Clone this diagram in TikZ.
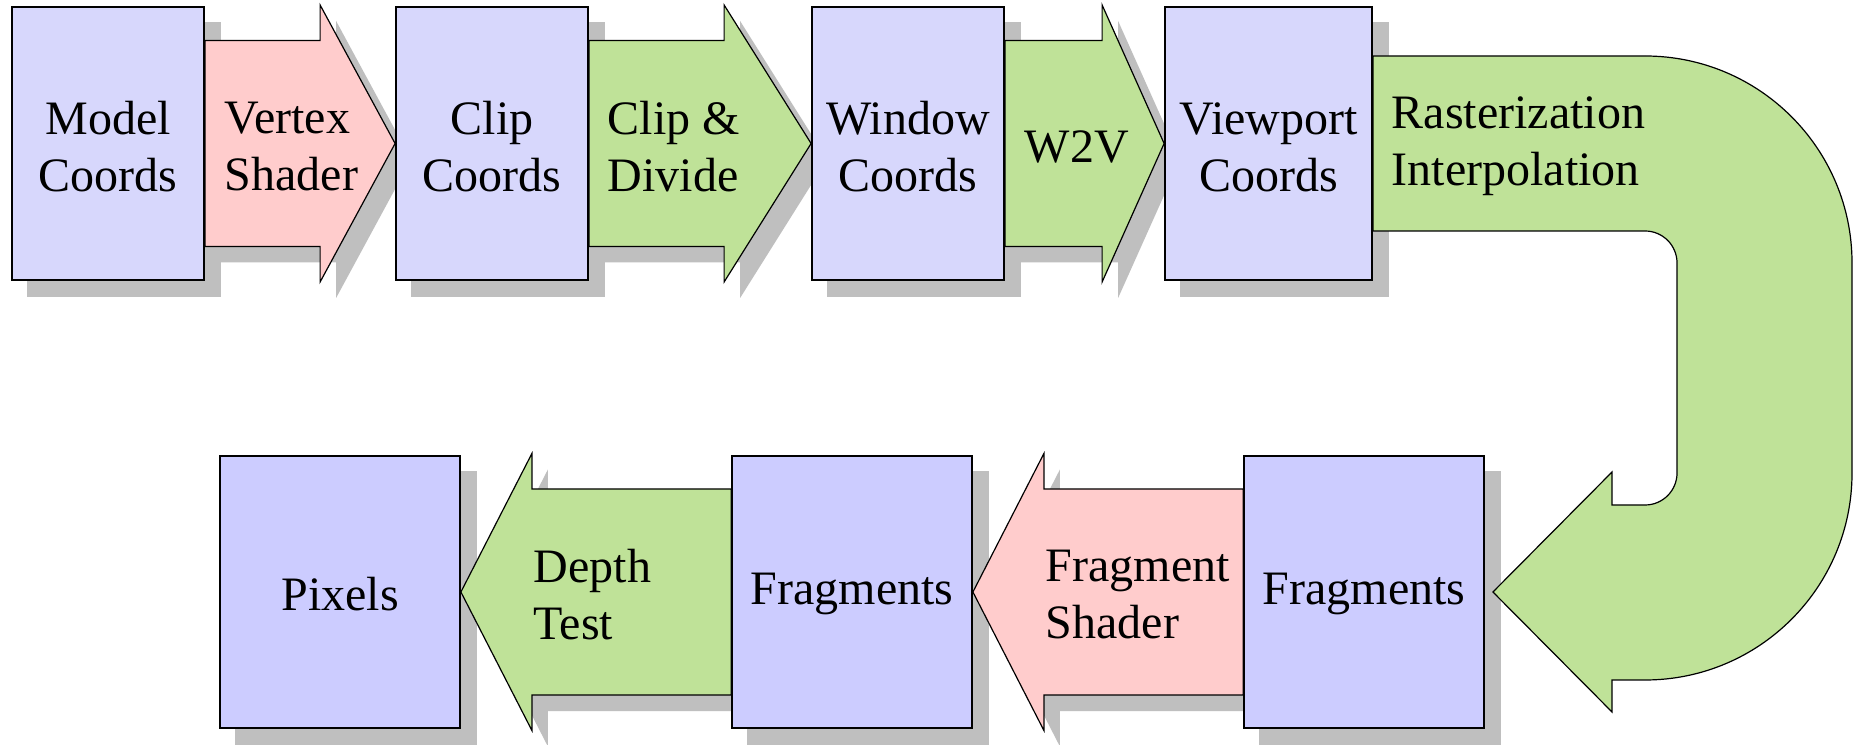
\documentclass[tikz,border=0pt]{standalone}
\usepackage{fontspec}
\setmainfont{Liberation Serif}
\usetikzlibrary{calc}
\pgfdeclarelayer{bglayer}
\pgfdeclarelayer{shadowlayer}
\pgfdeclarelayer{arrowlayer}
\pgfsetlayers{bglayer,shadowlayer,arrowlayer,main}
\definecolor{boxtop}{RGB}{215,215,252}
\definecolor{boxbot}{RGB}{204,204,255}
\definecolor{pinkc}{RGB}{255,204,204}
\definecolor{greenc}{RGB}{191,226,152}
\definecolor{shadowc}{RGB}{191,191,191}
% right-pointing arrow: tail node, tip node, head length
\newcommand\rpath[3]{($(#1.east)+(0,103)$) -- ($(#2.west)+(-#3,103)$) -- ($(#2.west)+(-#3,138.5)$) -- (#2.west) -- ($(#2.west)+(-#3,-138.5)$) -- ($(#2.west)+(-#3,-103)$) -- ($(#1.east)+(0,-103)$) -- cycle}
% left-pointing arrow: tail node, tip node, head length
\newcommand\lpath[3]{($(#1.west)+(0,103)$) -- ($(#2.east)+(#3,103)$) -- ($(#2.east)+(#3,138.5)$) -- (#2.east) -- ($(#2.east)+(#3,-138.5)$) -- ($(#2.east)+(#3,-103)$) -- ($(#1.west)+(0,-103)$) -- cycle}
\newcommand\shadowbox[1]{\begin{pgfonlayer}{shadowlayer}\fill[shadowc,shadowshift] (#1.north west) rectangle (#1.south east);\end{pgfonlayer}}
\tikzset{
  shadowshift/.style={transform canvas={xshift=4pt,yshift=-4pt}},
  txt/.style={font=\fontsize{12}{14.25}\selectfont},
  box/.style={draw=black, line width=0.45pt, inner sep=0pt,
              minimum width=48pt, minimum height=68.25pt},
  topbox/.style={box, fill=boxtop},
  botbox/.style={box, fill=boxbot, minimum width=60pt, minimum height=68pt},
  boxtext/.style={txt, align=center, inner sep=0pt},
  arrowbody/.style={draw=black, line width=0.3pt, line join=miter},
  lbl/.style={txt, align=left, anchor=west, inner sep=0pt},
}
\begin{document}
\begin{tikzpicture}[x=0.25pt,y=0.25pt]
\useasboundingbox (0,0) rectangle (1858,-745);
\begin{pgfonlayer}{bglayer}
  \fill[white] (0,0) rectangle (1858,-745);
\end{pgfonlayer}

% top row boxes
\node[topbox] (mc) at (108,-143.5) {};
\node[topbox] (cc) at (492,-143.5) {};
\node[topbox] (wc) at (908,-143.5) {};
\node[topbox, minimum width=51.75pt] (vc) at (1268.5,-143.5) {};
% bottom row boxes
\node[botbox] (px) at (340,-592) {};
\node[botbox] (fr2) at (852,-592) {};
\node[botbox] (fr1) at (1364,-592) {};

% box texts
\node[boxtext] (tmc) at ($(mc)+(0,-3.5)$) {Model\\Coords};
\node[boxtext] (tcc) at ($(cc)+(0,-3.5)$) {Clip\\Coords};
\node[boxtext] (twc) at ($(wc)+(0,-3.5)$) {Window\\Coords};
\node[boxtext] (tvc) at ($(vc)+(0,-3.5)$) {Viewport\\Coords};
\node[boxtext] (tpx) at ($(px)+(0,-2)$) {Pixels};
\node[boxtext] (tfr2) at ($(fr2)+(0,-2)$) {Fragments};
\node[boxtext] (tfr1) at ($(fr1)+(0,-2)$) {Fragments};

\foreach \n in {mc,cc,wc,vc,px,fr2,fr1} {\shadowbox{\n}}

% straight arrows
\begin{pgfonlayer}{shadowlayer}
  \fill[shadowc,shadowshift] \rpath{mc}{cc}{75};
  \fill[shadowc,shadowshift] \rpath{cc}{wc}{87};
  \fill[shadowc,shadowshift] \rpath{wc}{vc}{62};
  \fill[shadowc,shadowshift] \lpath{fr1}{fr2}{71};
  \fill[shadowc,shadowshift] \lpath{fr2}{px}{71};
\end{pgfonlayer}
\begin{pgfonlayer}{arrowlayer}
  \path[arrowbody, fill=pinkc]  \rpath{mc}{cc}{75};
  \path[arrowbody, fill=greenc] \rpath{cc}{wc}{87};
  \path[arrowbody, fill=greenc] \rpath{wc}{vc}{62};
  \path[arrowbody, fill=pinkc]  \lpath{fr1}{fr2}{71};
  \path[arrowbody, fill=greenc] \lpath{fr2}{px}{71};
  % U-turn arrow from Viewport Coords to Fragments
  \path[arrowbody, fill=greenc]
    ($(vc.east)+(0,87.5)$) -- (1645,-56)
    arc[start angle=90, end angle=0, radius=207] -- (1852,-473)
    arc[start angle=0, end angle=-90, radius=207] -- (1612,-680)
    -- (1612,-712) -- ($(fr1.east)+(8,0)$) -- (1612,-472) -- (1612,-505)
    -- (1645,-505) arc[start angle=-90, end angle=0, radius=32]
    -- (1677,-263) arc[start angle=0, end angle=90, radius=32]
    -- ($(vc.east)+(0,-87.5)$) -- cycle;
\end{pgfonlayer}

% arrow labels
\node[lbl] (lvs) at (224,-147) {Vertex\\Shader};
\node[lbl] (lcd) at (607,-147) {Clip \&\\Divide};
\node[lbl] (lw2v) at (1024,-147) {W2V};
\node[lbl] (lri) at (1391,-146) {Rasterization\\Interpolation};
\node[lbl] (ldt) at (533,-594.5) {Depth\\Test};
\node[lbl] (lfs) at (1045,-595) {Fragment\\Shader};
\end{tikzpicture}
\end{document}
